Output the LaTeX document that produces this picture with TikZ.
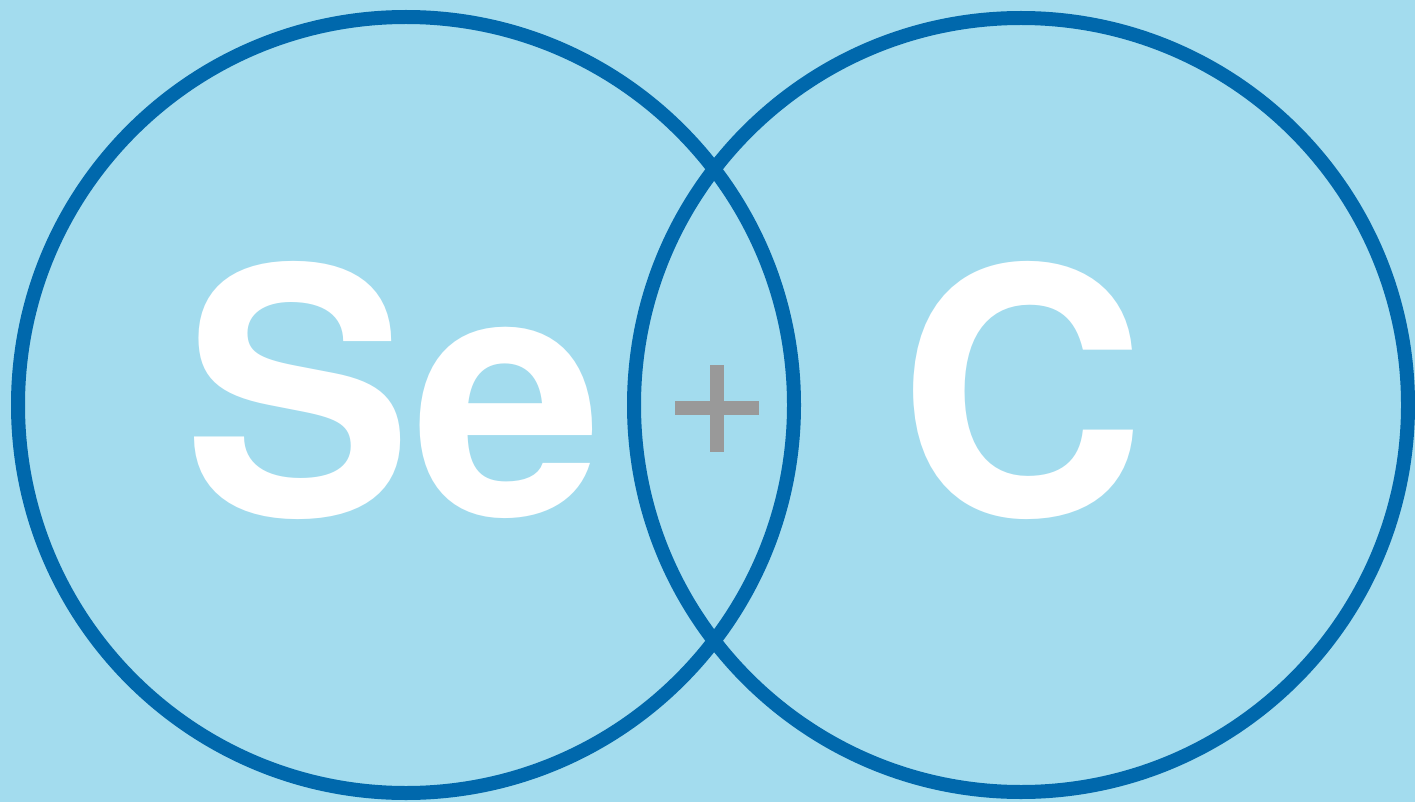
\documentclass[tikz,border=0pt]{standalone}
\usepackage{fontspec}
\setmainfont{TeX Gyre Heros}
\definecolor{bgblue}{RGB}{163,220,238}
\definecolor{ringblue}{RGB}{0,104,172}
\definecolor{plusgray}{RGB}{153,153,153}
\begin{document}
\begin{tikzpicture}[x=1pt,y=-1pt,
  ring/.style={draw=ringblue,line width=14pt},
  bigtext/.style={text=white,font=\fontsize{343}{343}\selectfont\bfseries,inner sep=0pt,anchor=base}]
\fill[bgblue] (0,0) rectangle (1415,802);
\useasboundingbox (0,0) rectangle (1415,802);
\draw[ring] (406,405) circle[radius=388];
\draw[ring] (1021,405) circle[radius=387];
\node[bigtext] (se) at (393,515) {Se};
\node[bigtext] (c) at (1022,515) {C};
\fill[plusgray] (675,401) rectangle (759,415);
\fill[plusgray] (710,365) rectangle (724,452);
\end{tikzpicture}
\end{document}
